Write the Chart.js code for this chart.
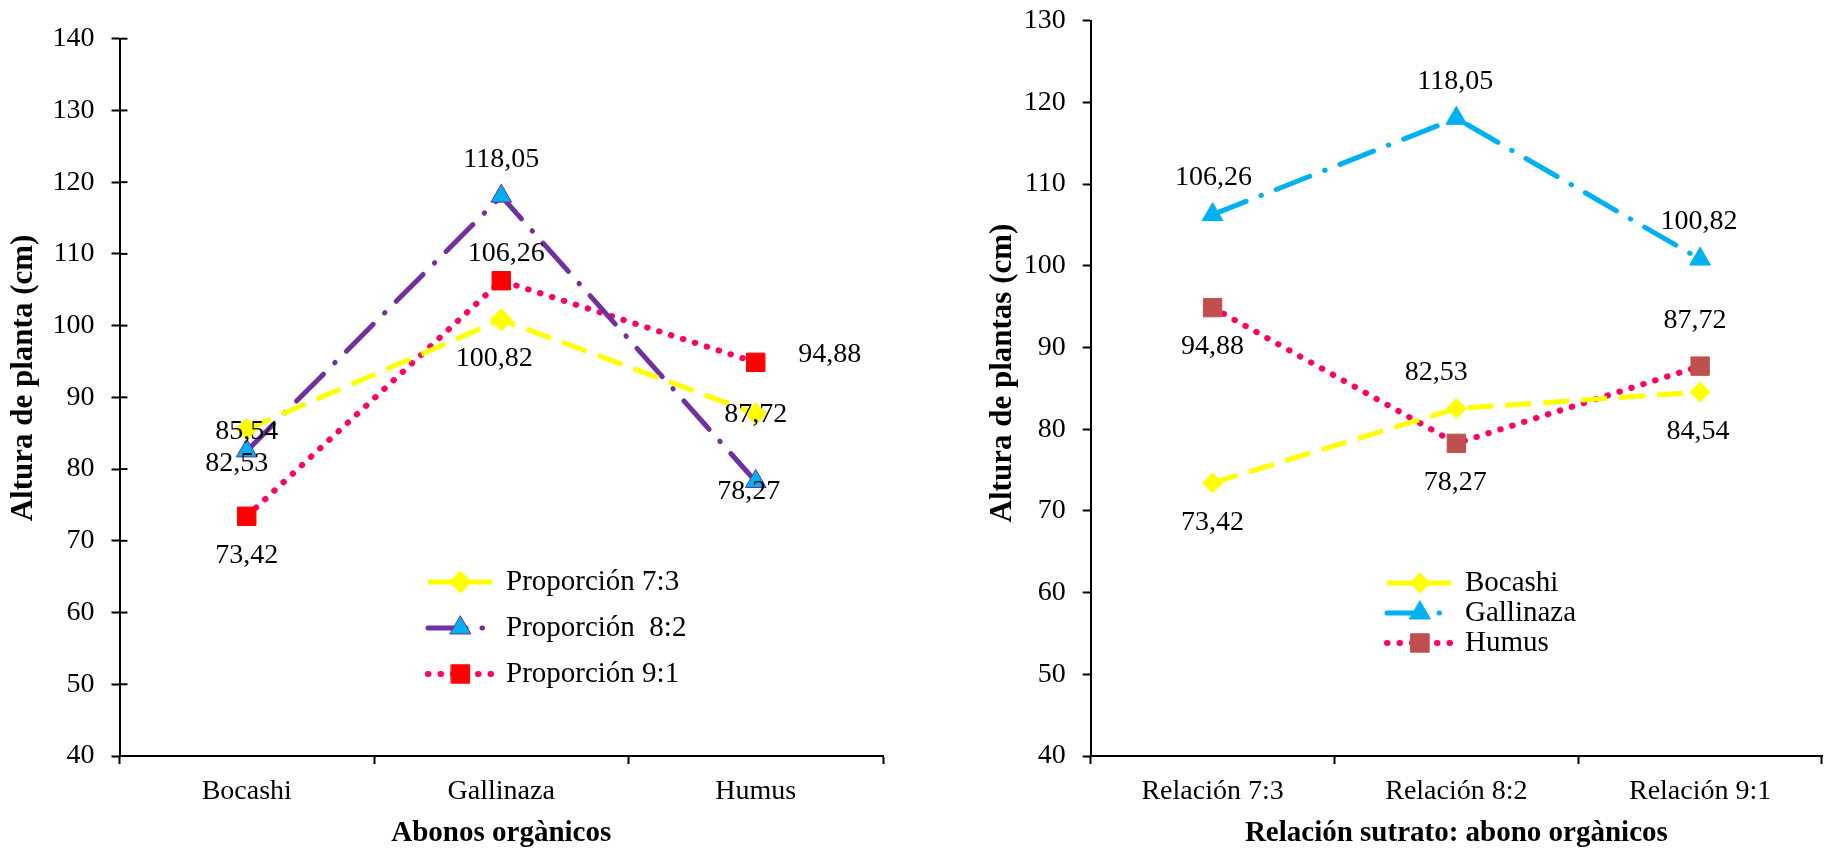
<!DOCTYPE html>
<html>
<head>
<meta charset="utf-8">
<script src="https://cdn.jsdelivr.net/npm/chart.js@4.4.0/dist/chart.umd.min.js"></script>
<style>
  body { margin: 0; background: #fff; }
  #wrap { position: relative; width: 1836px; height: 851px; }
  canvas { position: absolute; top: 0; }
</style>
</head>
<body>
<div id="wrap">
  <canvas id="grafIzq" width="918" height="851" style="left:0"></canvas>
  <canvas id="grafDer" width="918" height="851" style="left:918px"></canvas>
</div>
<script>
// datos grafico izquierdo
const abonos = ["Bocashi", "Gallinaza", "Humus"];
const prop73 = [85.54, 100.82, 87.72];
const prop82 = [82.53, 118.05, 78.27];
const prop91 = [73.42, 106.26, 94.88];
const ticksIzq = [40, 50, 60, 70, 80, 90, 100, 110, 120, 130, 140];

// datos grafico derecho
const relaciones = ["Relación 7:3", "Relación 8:2", "Relación 9:1"];
const bocashi = [73.42, 82.53, 84.54];
const gallinaza = [106.26, 118.05, 100.82];
const humus = [94.88, 78.27, 87.72];
const ticksDer = [40, 50, 60, 70, 80, 90, 100, 110, 120, 130];

const FUENTE = "'Liberation Serif', 'Times New Roman', serif";
Chart.defaults.font.family = FUENTE;
Chart.defaults.font.size = 28;
Chart.defaults.color = "#000";

const fmt = v => v.toFixed(2).replace(".", ",");

// etiquetas de valores (desplazamiento respecto al punto)
const etiquetas = {
    id: "etiquetas",
    afterDatasetsDraw(chart, args, opts) {
        const ctx = chart.ctx;
        ctx.save();
        ctx.font = "28px " + FUENTE;
        ctx.fillStyle = "#000";
        ctx.textAlign = "center";
        ctx.textBaseline = "middle";
        chart.data.datasets.forEach((ds, i) => {
            chart.getDatasetMeta(i).data.forEach((pt, j) => {
                const off = opts.offsets[i][j];
                ctx.fillText(fmt(ds.data[j]), pt.x + off[0], pt.y + off[1]);
            });
        });
        ctx.restore();
    }
};

function marcador(ctx, ds, x, y) {
    Chart.helpers.drawPoint(ctx, {
        pointStyle: ds.pointStyle,
        radius: ds.pointRadius,
        rotation: 0,
        borderWidth: ds.pointBorderWidth || 1
    }, x, y);
}

// leyenda dentro del area del grafico
const leyenda = {
    id: "leyenda",
    afterDraw(chart, args, opts) {
        const ctx = chart.ctx;
        chart.data.datasets.forEach((ds, i) => {
            const y = opts.filas[i];
            ctx.save();
            ctx.strokeStyle = ds.borderColor;
            ctx.lineWidth = ds.borderWidth;
            ctx.lineCap = ds.borderCapStyle || "butt";
            ctx.setLineDash(ds.borderDash || []);
            ctx.beginPath();
            ctx.moveTo(opts.x0, y);
            ctx.lineTo(opts.x1, y);
            ctx.stroke();
            ctx.setLineDash([]);
            ctx.fillStyle = ds.pointBackgroundColor;
            ctx.strokeStyle = ds.pointBorderColor;
            ctx.lineWidth = ds.pointBorderWidth || 1;
            marcador(ctx, ds, (opts.x0 + opts.x1) / 2, y);
            ctx.fillStyle = "#000";
            ctx.font = "29px " + FUENTE;
            ctx.textAlign = "left";
            ctx.textBaseline = "middle";
            ctx.fillText(ds.label, opts.xTexto, y);
            ctx.restore();
        });
    }
};

// titulo del eje y (un poco por encima del centro, como en el original)
const tituloY = {
    id: "tituloY",
    afterDraw(chart, args, opts) {
        const ctx = chart.ctx;
        ctx.save();
        ctx.translate(opts.x, opts.y);
        ctx.rotate(-Math.PI / 2);
        ctx.font = "bold 31px " + FUENTE;
        ctx.fillStyle = "#000";
        ctx.textAlign = "center";
        ctx.textBaseline = "middle";
        ctx.fillText(opts.texto, 0, 0);
        ctx.restore();
    }
};

// marcas del eje y hacia dentro (solo grafico izquierdo)
const marcasDentro = {
    id: "marcasDentro",
    afterDraw(chart) {
        const s = chart.scales.y;
        const ctx = chart.ctx;
        ctx.save();
        ctx.strokeStyle = "#000";
        ctx.lineWidth = 2;
        s.ticks.forEach(t => {
            const py = s.getPixelForValue(t.value);
            ctx.beginPath();
            ctx.moveTo(s.right, py);
            ctx.lineTo(s.right + 8, py);
            ctx.stroke();
        });
        ctx.restore();
    }
};

function escalas(cats, ticks, anchoY, tituloX) {
    return {
        x: {
            type: "category",
            labels: cats,
            offset: true,
            grid: { offset: true, drawOnChartArea: false, drawTicks: true, tickLength: 8, tickColor: "#000", tickWidth: 2 },
            border: { color: "#000", width: 2 },
            ticks: { padding: 11, font: { size: 28 } },
            title: { display: true, text: tituloX, font: { size: 29, weight: "bold" }, padding: { top: 0, bottom: 0 } },
            afterFit: s => { s.height = 95; s.paddingLeft = 0; s.paddingRight = 0; }
        },
        y: {
            min: ticks[0],
            max: ticks[ticks.length - 1],
            afterBuildTicks: s => { s.ticks = ticks.map(v => ({ value: v })); },
            grid: { drawOnChartArea: false, drawTicks: true, tickLength: 8, tickColor: "#000", tickWidth: 2 },
            border: { color: "#000", width: 2 },
            ticks: { padding: 17, font: { size: 28 } },
            afterFit: s => { s.width = anchoY; s.paddingTop = 0; s.paddingBottom = 0; }
        }
    };
}

function serie(label, data, color, ancho, dash, cap, estilo, radio, relleno, borde) {
    return {
        label: label,
        data: data,
        borderColor: color,
        borderWidth: ancho,
        borderDash: dash,
        borderCapStyle: cap,
        fill: false,
        tension: 0,
        pointStyle: estilo,
        pointRadius: radio,
        pointHoverRadius: radio,
        pointBackgroundColor: relleno,
        pointBorderColor: borde,
        pointBorderWidth: 1
    };
}

new Chart(document.getElementById("grafIzq").getContext("2d"), {
    type: "line",
    data: {
        labels: abonos,
        datasets: [
            serie("Proporción 7:3", prop73, "#FFFF00", 5, [26, 12], "butt", "rectRot", 11, "#FFFF00", "#FFFF00"),
            serie("Proporción  8:2", prop82, "#7030A0", 5, [38, 16, 0.5, 16], "round", "triangle", 12, "#00B0F0", "#7030A0"),
            serie("Proporción 9:1", prop91, "#FF0066", 6, [0.5, 12], "round", "rect", 13, "#FF0000", "#FF0000")
        ]
    },
    options: {
        responsive: false,
        animation: false,
        layout: { padding: { left: 0, top: 38.7, right: 35, bottom: 0 } },
        scales: escalas(abonos, ticksIzq, 119.5, "Abonos orgànicos"),
        plugins: {
            legend: { display: false },
            tooltip: { enabled: false },
            etiquetas: { offsets: [
                [[0, 2], [-7, 39], [0, 1]],
                [[-10, 13], [0, -37], [-7, 10]],
                [[0, 39], [5, -27], [74, -8]]
            ] },
            leyenda: { x0: 428, x1: 493, xTexto: 506, filas: [582, 628, 674] },
            tituloY: { texto: "Altura de planta (cm)", x: 24, y: 378 }
        }
    },
    plugins: [etiquetas, leyenda, marcasDentro, tituloY]
});

new Chart(document.getElementById("grafDer").getContext("2d"), {
    type: "line",
    data: {
        labels: relaciones,
        datasets: [
            serie("Bocashi", bocashi, "#FFFF00", 5, [26, 12], "butt", "rectRot", 10, "#FFFF00", "#FFFF00"),
            serie("Gallinaza", gallinaza, "#00B0F0", 5, [36, 16, 0.5, 16], "round", "triangle", 12, "#00B0F0", "#00B0F0"),
            serie("Humus", humus, "#FF0066", 6, [0.5, 12], "round", "rect", 13, "#C0504D", "#C0504D")
        ]
    },
    options: {
        responsive: false,
        animation: false,
        layout: { padding: { left: 0, top: 20.7, right: 10, bottom: 0 } },
        scales: escalas(relaciones, ticksDer, 172.7, "Relación sutrato: abono orgànicos"),
        plugins: {
            legend: { display: false },
            tooltip: { enabled: false },
            etiquetas: { offsets: [
                [[0, 40], [-20, -36], [-2, 40]],
                [[1, -37], [-1, -37], [-1, -37]],
                [[0, 39], [-1, 39], [-5, -45]]
            ] },
            leyenda: { x0: 469, x1: 535, xTexto: 547, filas: [583, 613, 643] },
            tituloY: { texto: "Altura de plantas (cm)", x: 85, y: 373 }
        }
    },
    plugins: [etiquetas, leyenda, tituloY]
});
</script>
</body>
</html>
